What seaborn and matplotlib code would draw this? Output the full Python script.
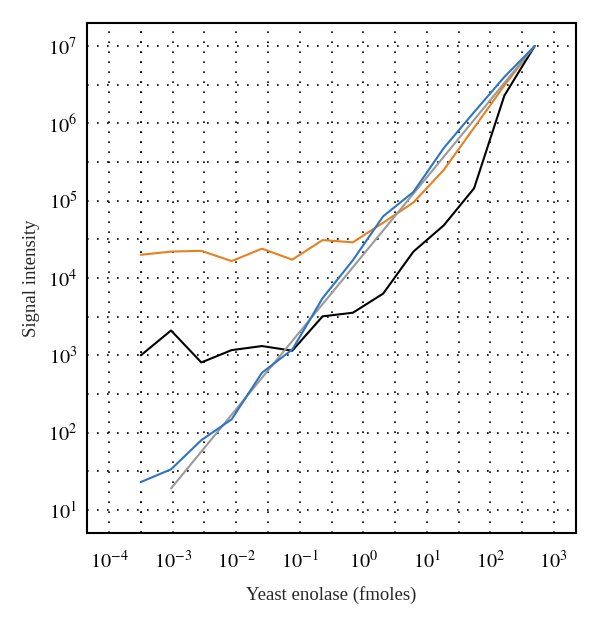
import numpy as np
import pandas as pd
import matplotlib
matplotlib.use("Agg")
import matplotlib.pyplot as plt
import matplotlib.ticker as mticker
import seaborn as sns

# 3-fold serial dilution of yeast enolase (fmoles)
enolase = [3.14e-4, 9.4e-4, 2.82e-3, 8.47e-3, 2.54e-2, 7.62e-2, 0.229,
           0.686, 2.06, 6.17, 18.5, 55.6, 167.0, 500.0]

orange_vals = [2.0e4, 2.2e4, 2.25e4, 1.66e4, 2.4e4, 1.73e4, 3.1e4,
               2.9e4, 5.2e4, 9.5e4, 2.5e5, 8.8e5, 3.1e6, 1.0e7]
blue_vals = [23, 33.6, 80, 149, 596, 1190, 5500,
             1.7e4, 6.3e4, 1.3e5, 4.8e5, 1.4e6, 4.0e6, 1.0e7]
black_vals = [1000, 2100, 810, 1170, 1320, 1150, 3200,
              3560, 6300, 2.2e4, 4.8e4, 1.45e5, 2.3e6, 1.0e7]
# linear reference line
gray_x = [9.4e-4, 500.0]
gray_vals = [19, 1.0e7]

x_decades = [-4, -3, -2, -1, 0, 1, 2, 3]
y_decades = [1, 2, 3, 4, 5, 6, 7]

series = {
    "orange": (enolase, orange_vals, "#e8801f"),
    "black": (enolase, black_vals, "black"),
    "gray": (gray_x, gray_vals, "#9a9a9a"),
    "blue": (enolase, blue_vals, "#2e74c6"),
}

sns.set_style("white")
plt.rcParams['font.family'] = ['Liberation Serif', 'DejaVu Serif']
plt.rcParams['mathtext.fontset'] = 'stix'

fig = plt.figure(figsize=(6, 6.2), dpi=100)
ax = fig.add_axes([0.145, 0.140, 0.815, 0.823])

for name, (xs, ys, col) in series.items():
    df = pd.DataFrame({"x": xs, "y": ys})
    sns.lineplot(data=df, x="x", y="y", ax=ax, color=col, lw=1.5,
                 estimator=None, sort=False)

ax.set_xscale("log")
ax.set_yscale("log")
ax.set_xlim(10 ** -4.35, 10 ** 3.35)
ax.set_ylim(10 ** 0.7, 10 ** 7.3)

xd = np.array(x_decades, dtype=float)
yd = np.array(y_decades, dtype=float)
ax.set_xticks(10 ** xd)
ax.set_xticklabels([r"$10^{%d}$" % d for d in x_decades])
ax.set_yticks(10 ** yd)
ax.set_yticklabels([r"$10^{%d}$" % d for d in y_decades])
ax.xaxis.set_minor_locator(mticker.FixedLocator(10 ** np.append(xd[0] + 0.5, xd[:-1] + 0.5)))
ax.yaxis.set_minor_locator(mticker.FixedLocator(10 ** (yd[:-1] + 0.5)))
ax.xaxis.set_minor_formatter(mticker.NullFormatter())
ax.yaxis.set_minor_formatter(mticker.NullFormatter())

ax.grid(True, which="both", color="black", lw=1.2, linestyle=(0, (1, 5)))
ax.tick_params(which="major", direction="inout", length=7, width=1.2,
               labelsize=14.5, colors="black")
ax.tick_params(axis="x", which="major", pad=9)
ax.tick_params(which="minor", length=0)

for sp in ax.spines.values():
    sp.set_color("black")
    sp.set_linewidth(1.5)

ax.set_xlabel("Yeast enolase (fmoles)", fontsize=13.5, labelpad=10)
ax.set_ylabel("Signal intensity", fontsize=13.5, labelpad=6)

fig.savefig("out.png", dpi=100)
